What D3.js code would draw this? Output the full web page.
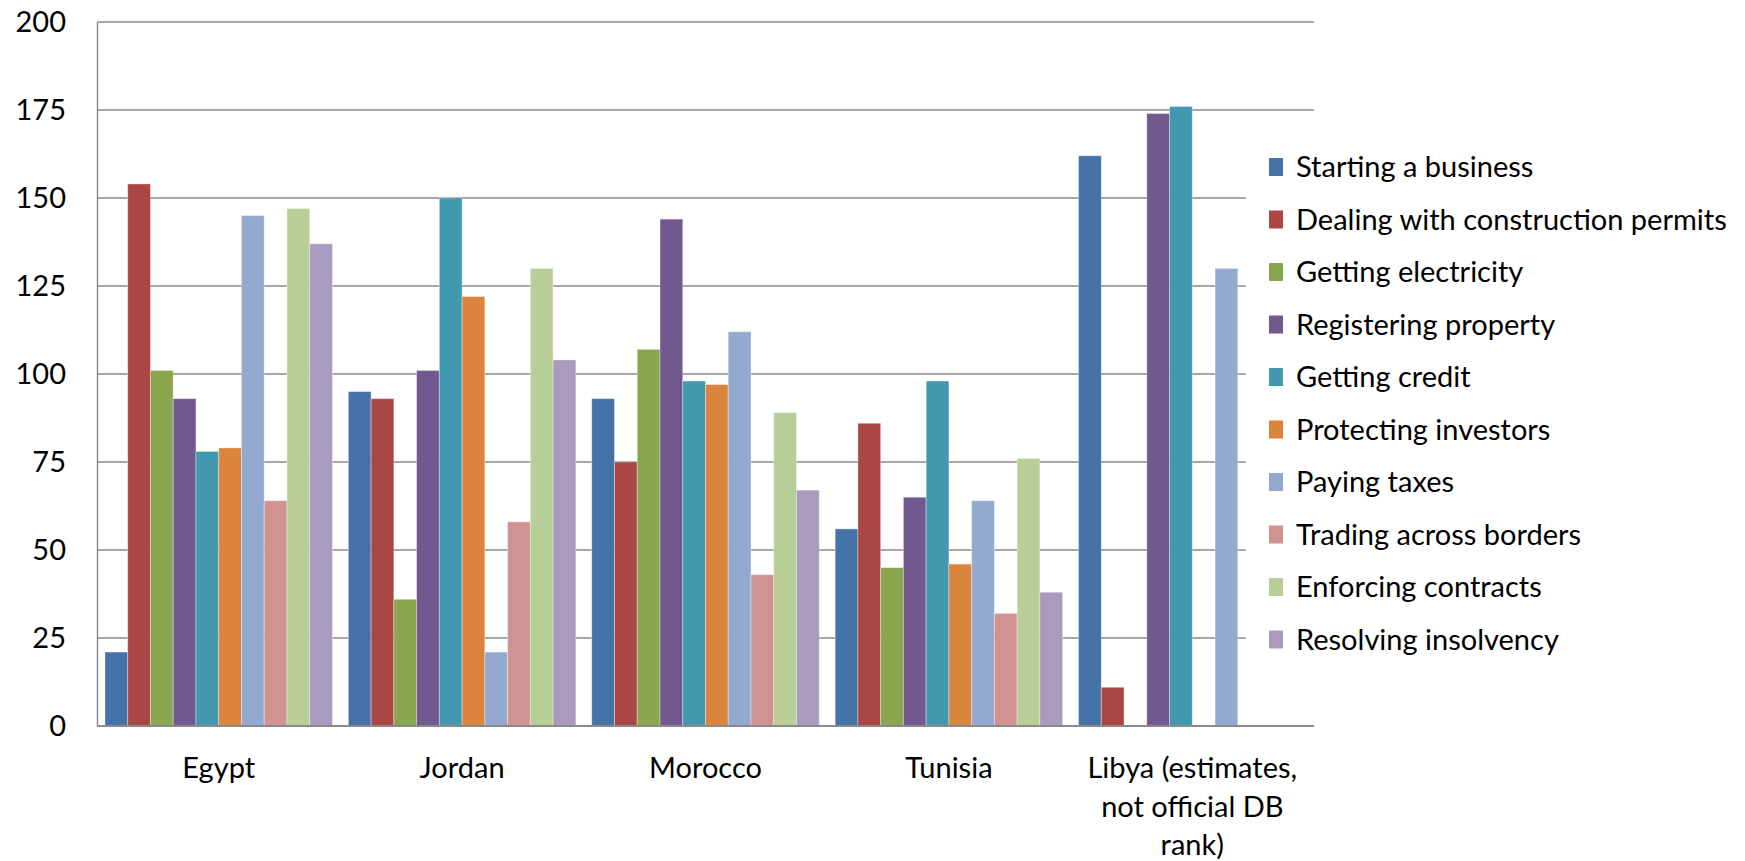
<!DOCTYPE html>
<html>
<head>
<meta charset="utf-8">
<script src="https://cdn.jsdelivr.net/npm/d3@7"></script>
<style>
  html, body { margin: 0; padding: 0; background: #ffffff; }
  svg { display: block; font-family: Lato, "Open Sans", sans-serif; }
</style>
</head>
<body>
<svg id="chart" width="1745" height="861"></svg>
<script>
// Doing Business rankings by topic, five North African economies
const countries = ["Egypt", "Jordan", "Morocco", "Tunisia", "Libya (estimates,\nnot official DB\nrank)"];
const indicators = [
  "Starting a business",
  "Dealing with construction permits",
  "Getting electricity",
  "Registering property",
  "Getting credit",
  "Protecting investors",
  "Paying taxes",
  "Trading across borders",
  "Enforcing contracts",
  "Resolving insolvency"
];
// one array per country, in indicator order (null = no bar)
const egypt   = [21, 154, 101, 93, 78, 79, 145, 64, 147, 137];
const jordan  = [95, 93, 36, 101, 150, 122, 21, 58, 130, 104];
const morocco = [93, 75, 107, 144, 98, 97, 112, 43, 89, 67];
const tunisia = [56, 86, 45, 65, 98, 46, 64, 32, 76, 38];
const libya   = [162, 11, null, 174, 176, null, 130, null, null, null];
const yTicks  = [0, 25, 50, 75, 100, 125, 150, 175, 200];
const colors  = ["#4572A7", "#AA4643", "#89A54E", "#71588F", "#4198AF",
                 "#DB843D", "#93A9CF", "#D19392", "#B9CD96", "#A99BBD"];

const rows = [egypt, jordan, morocco, tunisia, libya];

const svg = d3.select("#chart");
const plotLeft = 97, plotRight = 1314, plotTop = 22, plotBottom = 726;
const fontSize = 29;

const x0 = d3.scaleBand().domain(countries).range([plotLeft, plotRight])
  .paddingInner(0.7 / 10.7).paddingOuter(0.35 / 10.7);
const x1 = d3.scaleBand().domain(indicators).range([0, x0.bandwidth()]);
const y = d3.scaleLinear().domain([0, 200]).range([plotBottom, plotTop]);
const color = d3.scaleOrdinal().domain(indicators).range(colors);

// horizontal gridlines
svg.append("g").selectAll("line").data(yTicks.filter(t => t > 0)).join("line")
  .attr("x1", plotLeft).attr("x2", plotRight)
  .attr("y1", d => y(d)).attr("y2", d => y(d))
  .attr("stroke", "#8a8a8a").attr("stroke-width", 1.5);

// bars
const groups = svg.append("g").selectAll("g").data(countries).join("g")
  .attr("transform", d => `translate(${x0(d)},0)`);
groups.selectAll("rect")
  .data((c, i) => indicators.map((k, j) => ({ k, v: rows[i][j] })).filter(d => d.v != null))
  .join("rect")
  .attr("x", d => x1(d.k))
  .attr("width", x1.bandwidth())
  .attr("y", d => y(d.v))
  .attr("height", d => y(0) - y(d.v))
  .attr("fill", d => color(d.k))
  .attr("stroke", "rgba(255,255,255,0.35)")
  .attr("stroke-width", 1);

// y axis
const yAxis = d3.axisLeft(y).tickValues(yTicks).tickSize(0).tickPadding(31);
const gy = svg.append("g").attr("transform", `translate(${plotLeft},0)`).call(yAxis);
gy.select(".domain").attr("stroke", "#8a8a8a").attr("stroke-width", 1.5);
gy.selectAll("text").attr("font-size", fontSize).attr("font-family", "Lato, sans-serif")
  .attr("fill", "#000");

// x axis line and category labels
svg.append("line").attr("x1", plotLeft).attr("x2", plotRight)
  .attr("y1", y(0)).attr("y2", y(0))
  .attr("stroke", "#8a8a8a").attr("stroke-width", 2);
const xl = svg.append("g").selectAll("text").data(countries).join("text")
  .attr("x", d => x0(d) + x0.bandwidth() / 2)
  .attr("y", 778)
  .attr("text-anchor", "middle")
  .attr("font-size", fontSize)
  .attr("fill", "#000");
xl.each(function(d) {
  const t = d3.select(this);
  d.split("\n").forEach((line, i) => {
    t.append("tspan").attr("x", x0(d) + x0.bandwidth() / 2)
      .attr("dy", i === 0 ? 0 : 38.5).text(line);
  });
});

// legend
const legX = 1246, firstY = 167, stepY = 52.5;
svg.append("rect").attr("x", legX).attr("y", firstY - 28)
  .attr("width", 1745 - legX).attr("height", stepY * 9 + 56).attr("fill", "#fff");
const leg = svg.append("g").selectAll("g").data(indicators).join("g")
  .attr("transform", (d, i) => `translate(${legX},${firstY + i * stepY})`);
leg.append("rect").attr("x", 23).attr("y", -9).attr("width", 14).attr("height", 18)
  .attr("fill", d => color(d));
leg.append("text").attr("x", 50).attr("dy", "0.35em")
  .attr("font-size", fontSize).attr("fill", "#000").text(d => d);
</script>
</body>
</html>
